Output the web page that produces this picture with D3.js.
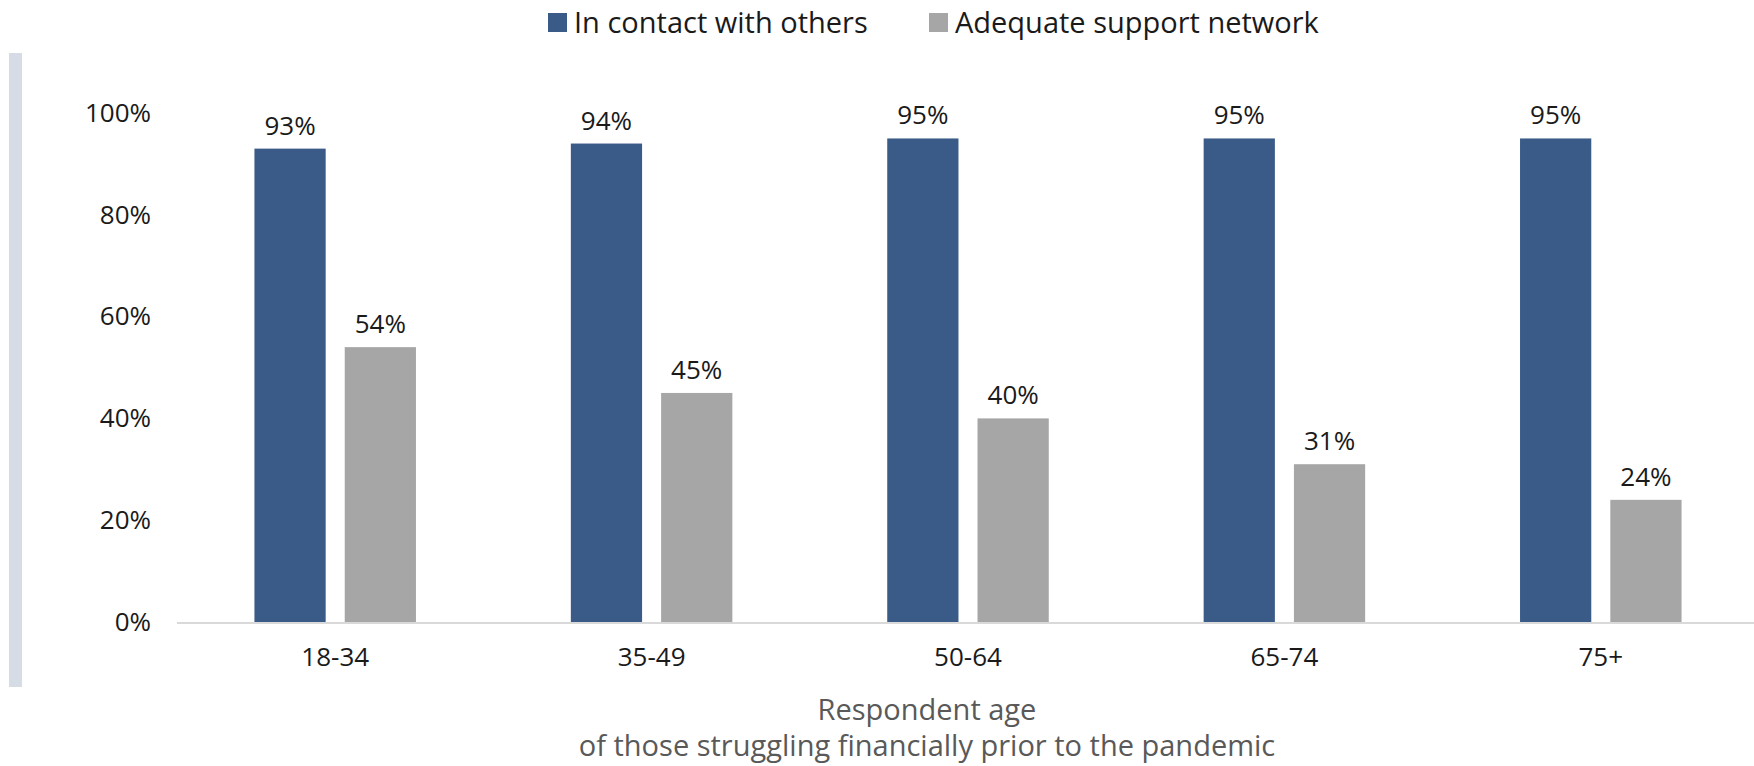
<!doctype html>
<html>
  <head>
    <meta charset="utf-8">
    <script src="https://cdnjs.cloudflare.com/ajax/libs/d3/7.8.5/d3.min.js"></script>
    <style>
      body { margin: 0; background: #fff; }
      svg text { font-family: "Open Sans", "Noto Sans", sans-serif; }
      .tick line { display: none; }
      .domain { display: none; }
    </style>
  </head>
  <body>
    <svg id="chart" width="1754" height="766"></svg>
    <script>
      // values
      var ageGroups = ["18-34", "35-49", "50-64", "65-74", "75+"];
      var seriesNames = ["In contact with others", "Adequate support network"];
      var inContact = [93, 94, 95, 95, 95];
      var adequateSupport = [54, 45, 40, 31, 24];
      var yTicks = [0, 20, 40, 60, 80, 100];
      var colors = ["#3A5A87", "#A6A6A6"];

      var fs = 26, fsWords = 29;
      var svg = d3.select("#chart");
      var plotLeft = 177, plotRight = 1759, plotTop = 113, plotBottom = 622;

      // left accent bar
      svg.append("rect").attr("x", 9).attr("y", 53).attr("width", 13).attr("height", 634).attr("fill", "#D6DCE5");

      var x0 = d3.scaleBand().domain(ageGroups).range([plotLeft, plotRight])
        .paddingInner(0.4895).paddingOuter(0.4895 / 2);
      var x1 = d3.scaleBand().domain(seriesNames).range([0, x0.bandwidth()])
        .paddingInner(0.211).paddingOuter(0);
      var y = d3.scaleLinear().domain([0, 100]).range([plotBottom, plotTop]);

      var rows = ageGroups.map(function (g, i) {
        return { group: g, values: [
          { s: seriesNames[0], v: inContact[i], c: colors[0] },
          { s: seriesNames[1], v: adequateSupport[i], c: colors[1] }
        ] };
      });

      // y axis labels
      var yAxis = svg.append("g").attr("transform", "translate(151,0)")
        .call(d3.axisLeft(y).tickValues(yTicks).tickSize(0).tickPadding(0).tickFormat(function (d) { return d + "%"; }));
      yAxis.selectAll("text").attr("font-size", fs).attr("fill", "#1a1a1a");

      // bars
      var groups = svg.selectAll("g.grp").data(rows).enter().append("g")
        .attr("class", "grp")
        .attr("transform", function (d) { return "translate(" + x0(d.group) + ",0)"; });

      groups.selectAll("rect").data(function (d) { return d.values; }).enter().append("rect")
        .attr("x", function (d) { return x1(d.s); })
        .attr("y", function (d) { return y(d.v); })
        .attr("width", x1.bandwidth())
        .attr("height", function (d) { return plotBottom - y(d.v); })
        .attr("fill", function (d) { return d.c; });

      groups.selectAll("text.lbl").data(function (d) { return d.values; }).enter().append("text")
        .attr("class", "lbl")
        .attr("x", function (d) { return x1(d.s) + x1.bandwidth() / 2; })
        .attr("y", function (d) { return y(d.v) - 14; })
        .attr("text-anchor", "middle")
        .attr("font-size", fs)
        .attr("fill", "#1a1a1a")
        .text(function (d) { return d.v + "%"; });

      // baseline
      svg.append("line").attr("x1", plotLeft).attr("x2", 1754).attr("y1", plotBottom + 1).attr("y2", plotBottom + 1)
        .attr("stroke", "#D9D9D9").attr("stroke-width", 2);

      // x axis labels
      var xAxis = svg.append("g").attr("transform", "translate(0," + plotBottom + ")")
        .call(d3.axisBottom(x0).tickSize(0).tickPadding(26));
      xAxis.selectAll("text").attr("font-size", fs).attr("fill", "#1a1a1a");

      // axis title
      var title = svg.append("text").attr("text-anchor", "middle")
        .attr("font-size", fsWords).attr("fill", "#595959");
      title.append("tspan").attr("x", 927).attr("y", 720).text("Respondent age");
      title.append("tspan").attr("x", 927).attr("y", 756).text("of those struggling financially prior to the pandemic");

      // legend
      var legendX = [548, 929];
      var legend = svg.selectAll("g.leg").data(seriesNames).enter().append("g")
        .attr("class", "leg")
        .attr("transform", function (d, i) { return "translate(" + legendX[i] + ",13)"; });
      legend.append("rect").attr("width", 19).attr("height", 19)
        .attr("fill", function (d, i) { return colors[i]; });
      legend.append("text").attr("x", 26).attr("y", 20).attr("font-size", fsWords).attr("fill", "#1a1a1a")
        .text(function (d) { return d; });
    </script>
  </body>
</html>
